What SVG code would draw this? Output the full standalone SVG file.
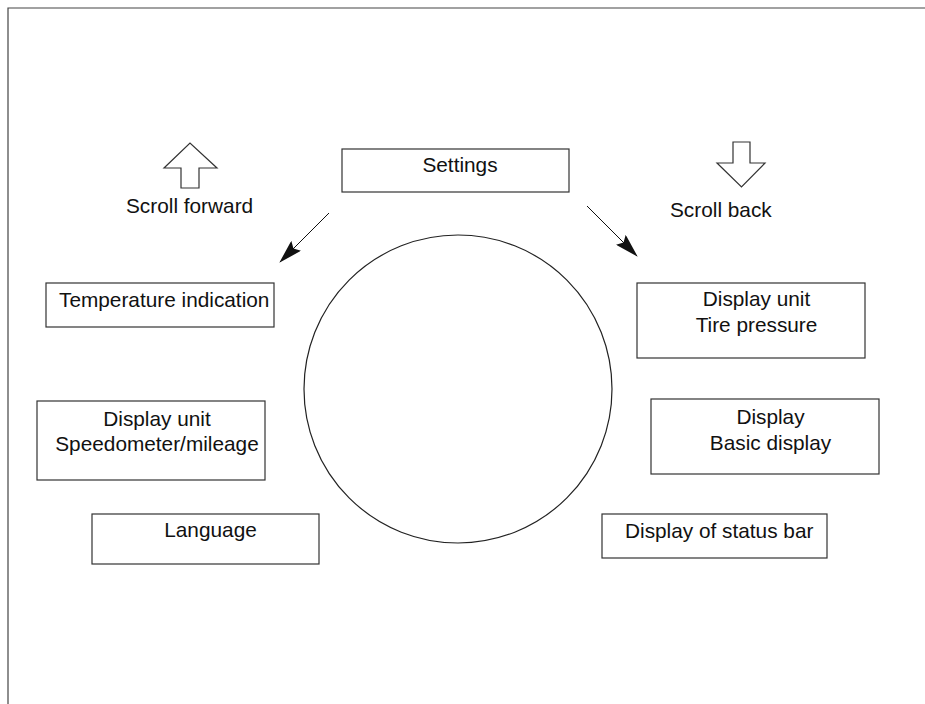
<svg xmlns="http://www.w3.org/2000/svg" width="925" height="704" viewBox="0 0 925 704">
<style>
.box{fill:#fff;stroke:#333;stroke-width:1.2}
.t{font-family:"Liberation Sans",Arial,sans-serif;font-size:20.8px;fill:#111}
.m{text-anchor:middle}
.con{stroke:#111;stroke-width:1;fill:none}
.icon{fill:#fff;stroke:#333;stroke-width:1.2}
</style>
<defs>
<marker id="ah" viewBox="0 0 24 14" refX="23" refY="7" markerWidth="24" markerHeight="14" markerUnits="userSpaceOnUse" orient="auto">
<path d="M0,0 L24,7 L0,14 L4,7 Z" fill="#111"/>
</marker>
</defs>
<rect width="925" height="704" fill="#fff"/>
<g id="frame">
<path d="M8,704 L8,8 L925,8" fill="none" stroke="#444" stroke-width="1.2"/>
</g>
<g id="circle">
<circle cx="458" cy="389" r="154" fill="none" stroke="#222" stroke-width="1.2"/>
</g>
<g id="scroll-forward">
<polygon class="icon" points="181,188 199,188 199,168 217,168 190,143 164,168 181,168"/>
<text class="t" x="126" y="213">Scroll forward</text>
</g>
<g id="scroll-back">
<polygon class="icon" points="733,142 750,142 750,163 765,163 741.5,187 717,163 733,163"/>
<text class="t" x="670" y="217">Scroll back</text>
</g>
<g id="settings">
<rect class="box" x="342" y="149" width="227" height="43"/>
<text class="t m" x="460" y="172">Settings</text>
</g>
<g id="temperature">
<rect class="box" x="46" y="283" width="228" height="44"/>
<text class="t" x="59" y="307">Temperature indication</text>
</g>
<g id="speedometer">
<rect class="box" x="37" y="401" width="228" height="79"/>
<text class="t m" x="157" y="426">Display unit</text>
<text class="t m" x="157" y="451">Speedometer/mileage</text>
</g>
<g id="language">
<rect class="box" x="92" y="514" width="227" height="50"/>
<text class="t m" x="210.5" y="537">Language</text>
</g>
<g id="tire">
<rect class="box" x="637" y="283" width="228" height="75"/>
<text class="t m" x="756.5" y="306">Display unit</text>
<text class="t m" x="756.5" y="332">Tire pressure</text>
</g>
<g id="basic">
<rect class="box" x="651" y="399" width="228" height="75"/>
<text class="t m" x="770.5" y="424">Display</text>
<text class="t m" x="770.5" y="450">Basic display</text>
</g>
<g id="statusbar">
<rect class="box" x="602" y="514" width="225" height="44"/>
<text class="t" x="625" y="538">Display of status bar</text>
</g>
<g id="connectors">
<line class="con" x1="329" y1="213" x2="280" y2="262" marker-end="url(#ah)"/>
<line class="con" x1="587" y1="206" x2="637" y2="256" marker-end="url(#ah)"/>
</g>
</svg>
